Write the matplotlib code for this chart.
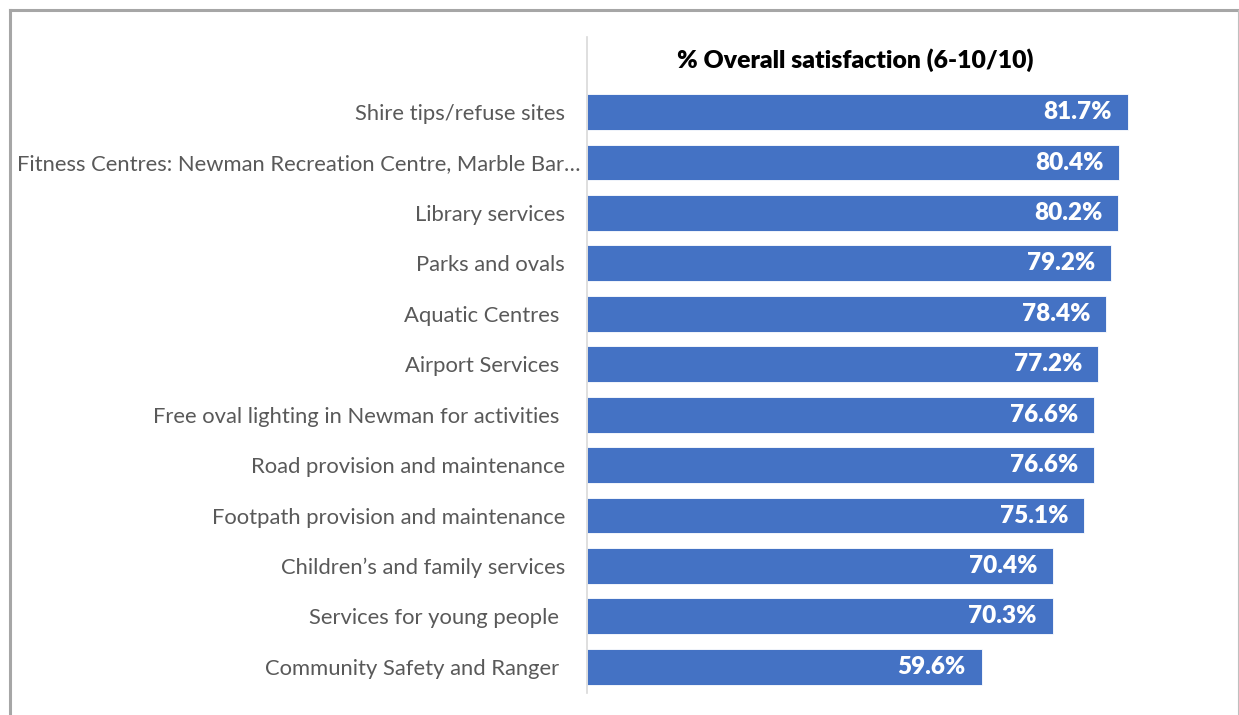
import matplotlib.pyplot as plt
from matplotlib.lines import Line2D
from matplotlib.transforms import ScaledTranslation

services = [
    "Shire tips/refuse sites",
    "Fitness Centres: Newman Recreation Centre, Marble Bar\u2026",
    "Library services",
    "Parks and ovals",
    "Aquatic Centres ",
    "Airport Services ",
    "Free oval lighting in Newman for activities ",
    "Road provision and maintenance",
    "Footpath provision and maintenance",
    "Children\u2019s and family services",
    "Services for young people ",
    "Community Safety and Ranger ",
]
satisfaction = [81.7, 80.4, 80.2, 79.2, 78.4, 77.2, 76.6, 76.6, 75.1, 70.4, 70.3, 59.6]

plt.rcParams['font.family'] = ['Lato', 'DejaVu Sans']

fig = plt.figure(figsize=(12.39, 7.15), dpi=100)
ax = fig.add_axes([587 / 1239, 1 - 693 / 715, (1200 - 587) / 1239, (693 - 37) / 715])

pos = list(range(len(services)))
ax.barh(pos, satisfaction, height=0.71, color='#4472C4', edgecolor='white', linewidth=0.6)

for y, v in zip(pos, satisfaction):
    ax.text(v - 2.4, y, f"{v:.1f}%", ha='right', va='center',
            color='white', fontsize=17.5, fontweight='heavy')

ax.set_xlim(0, (1200 - 587) / ((1128 - 587) / 81.7))
ax.set_ylim(11.52, -1.49)
ax.set_yticks(pos)
ax.set_yticklabels(services, fontsize=15.85, color='#595959')
ax.tick_params(axis='y', length=0, pad=15.8)
ax.set_xticks([])
for s in ['top', 'right', 'bottom']:
    ax.spines[s].set_visible(False)
ax.spines['left'].set_color('#d9d9d9')
ax.spines['left'].set_linewidth(1.2)

# the truncated long label sits closer to the axis
long_lbl = ax.get_yticklabels()[1]
long_lbl.set_transform(long_lbl.get_transform() + ScaledTranslation(0.15, 0, fig.dpi_scale_trans))

fig.text(855 / 1239, 1 - 60 / 715, "% Overall satisfaction (6-10/10)",
         ha='center', va='center', fontsize=17.8, fontweight='heavy', color='black')

# outer frame of the chart area
W, H = 1239, 715
fig.add_artist(Line2D([10 / W, 10 / W], [0, 1 - 10 / H], transform=fig.transFigure,
                      color='#a6a6a6', linewidth=2.2))
fig.add_artist(Line2D([10 / W, 1237.5 / W], [1 - 10 / H, 1 - 10 / H], transform=fig.transFigure,
                      color='#a6a6a6', linewidth=2.2))
fig.add_artist(Line2D([1237.5 / W, 1237.5 / W], [0, 1 - 10 / H], transform=fig.transFigure,
                      color='#bfbfbf', linewidth=0.8))

fig.savefig('out.png', dpi=100)
